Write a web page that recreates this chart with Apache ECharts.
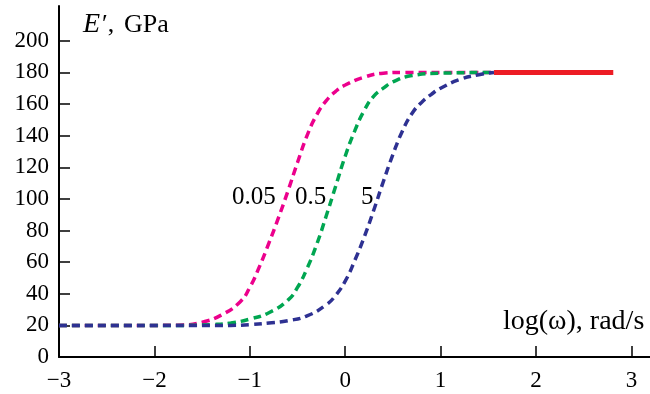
<!DOCTYPE html>
<html>
<head>
<meta charset="utf-8">
<script src="https://cdn.jsdelivr.net/npm/echarts@6/dist/echarts.min.js"></script>
<style>
  html, body { margin: 0; padding: 0; background: #fff; }
  #chart { width: 650px; height: 394px; }
</style>
</head>
<body>
<div id="chart"></div>
<script>
// tick values
const xTicks = [-3, -2, -1, 0, 1, 2, 3]
const yTicks = [0, 20, 40, 60, 80, 100, 120, 140, 160, 180, 200]

// curve 0.05
const logW005 = [-3, -2, -1.7, -1.5, -1.3, -1.1, -1.0, -0.9, -0.8, -0.7, -0.6, -0.5, -0.4, -0.3, -0.2, -0.1, 0, 0.2, 0.4, 0.6, 1.56]
const E005 = [20, 20, 20.3, 22, 26.5, 35, 44, 57, 72, 88, 105, 123, 140, 153, 162, 168, 172, 177, 179.5, 180, 180]

// curve 0.5
const logW05 = [-3, -1.7, -1.4, -1.2, -1.0, -0.8, -0.6, -0.5, -0.4, -0.3, -0.2, -0.1, 0, 0.1, 0.2, 0.3, 0.4, 0.5, 0.7, 1.0, 1.56]
const E05 = [20, 20, 20.5, 21.5, 24, 28, 36, 44, 56, 71, 89, 108, 127, 143, 156, 165, 170, 174, 178, 179.5, 180]

// curve 5
const logW5 = [-3, -1.2, -1.0, -0.8, -0.6, -0.4, -0.2, -0.1, 0, 0.1, 0.2, 0.3, 0.4, 0.5, 0.6, 0.7, 0.8, 0.9, 1.0, 1.2, 1.4, 1.56]
const E5 = [20, 20, 20.5, 21.5, 23, 26, 33, 39, 48, 61, 76, 93, 111, 128, 143, 154, 161, 166, 170, 175.5, 178.5, 180]

// high-frequency limit
const logWInf = [1.56, 2.81]
const EInf = [180, 180]

const zip = (xs, ys) => xs.map((x, i) => [x, ys[i]])

const chart = echarts.init(document.getElementById('chart'))
const font = '"Liberation Serif", "Times New Roman", serif'

const dashed = (name, xs, ys, color) => ({
  name,
  type: 'line',
  data: zip(xs, ys),
  smooth: 0.5,
  showSymbol: false,
  lineStyle: { color, width: 3.5, type: [8, 5] },
  silent: true
})

const txt = (text, left, top, size, italic) => ({
  type: 'text', left, top,
  style: { text, fontFamily: font, fontSize: size, fontStyle: italic ? 'italic' : 'normal', fill: '#000' }
})

chart.setOption({
  animation: false,
  grid: { left: 59, right: 0, top: 6, bottom: 37 },
  xAxis: {
    type: 'value',
    min: -3,
    max: 3.195,
    splitLine: { show: false },
    axisLine: { onZero: false, lineStyle: { color: '#000', width: 2 } },
    axisTick: { inside: true, length: 11, customValues: xTicks, lineStyle: { color: '#000', width: 1.5 } },
    axisLabel: {
      customValues: xTicks,
      margin: 12,
      color: '#000',
      fontFamily: font,
      fontSize: 23,
      formatter: v => String(v).replace('-', '\u2212')
    }
  },
  yAxis: {
    type: 'value',
    min: 0,
    max: 222,
    splitLine: { show: false },
    axisLine: { onZero: false, lineStyle: { color: '#000', width: 2 } },
    axisTick: { inside: true, length: 11, customValues: yTicks, lineStyle: { color: '#000', width: 1.5 } },
    axisLabel: {
      customValues: yTicks,
      margin: 10,
      color: '#000',
      fontFamily: font,
      fontSize: 23
    }
  },
  graphic: [
    txt('E', 83, 11, 28, true),
    txt('\u2032,', 102, 12, 26),
    txt('GPa', 124, 12, 26),
    txt('log(\u03c9), rad/s', 503, 308, 28),
    txt('0.05', 232, 185, 25),
    txt('0.5', 295, 185, 25),
    txt('5', 361, 185, 25)
  ],
  series: [
    dashed('0.05', logW005, E005, '#ec008c'),
    dashed('0.5', logW05, E05, '#00a651'),
    dashed('5', logW5, E5, '#2e3192'),
    {
      name: 'inf',
      type: 'line',
      data: zip(logWInf, EInf),
      showSymbol: false,
      lineStyle: { color: '#ed1c24', width: 5 },
      silent: true
    }
  ]
})
</script>
</body>
</html>
